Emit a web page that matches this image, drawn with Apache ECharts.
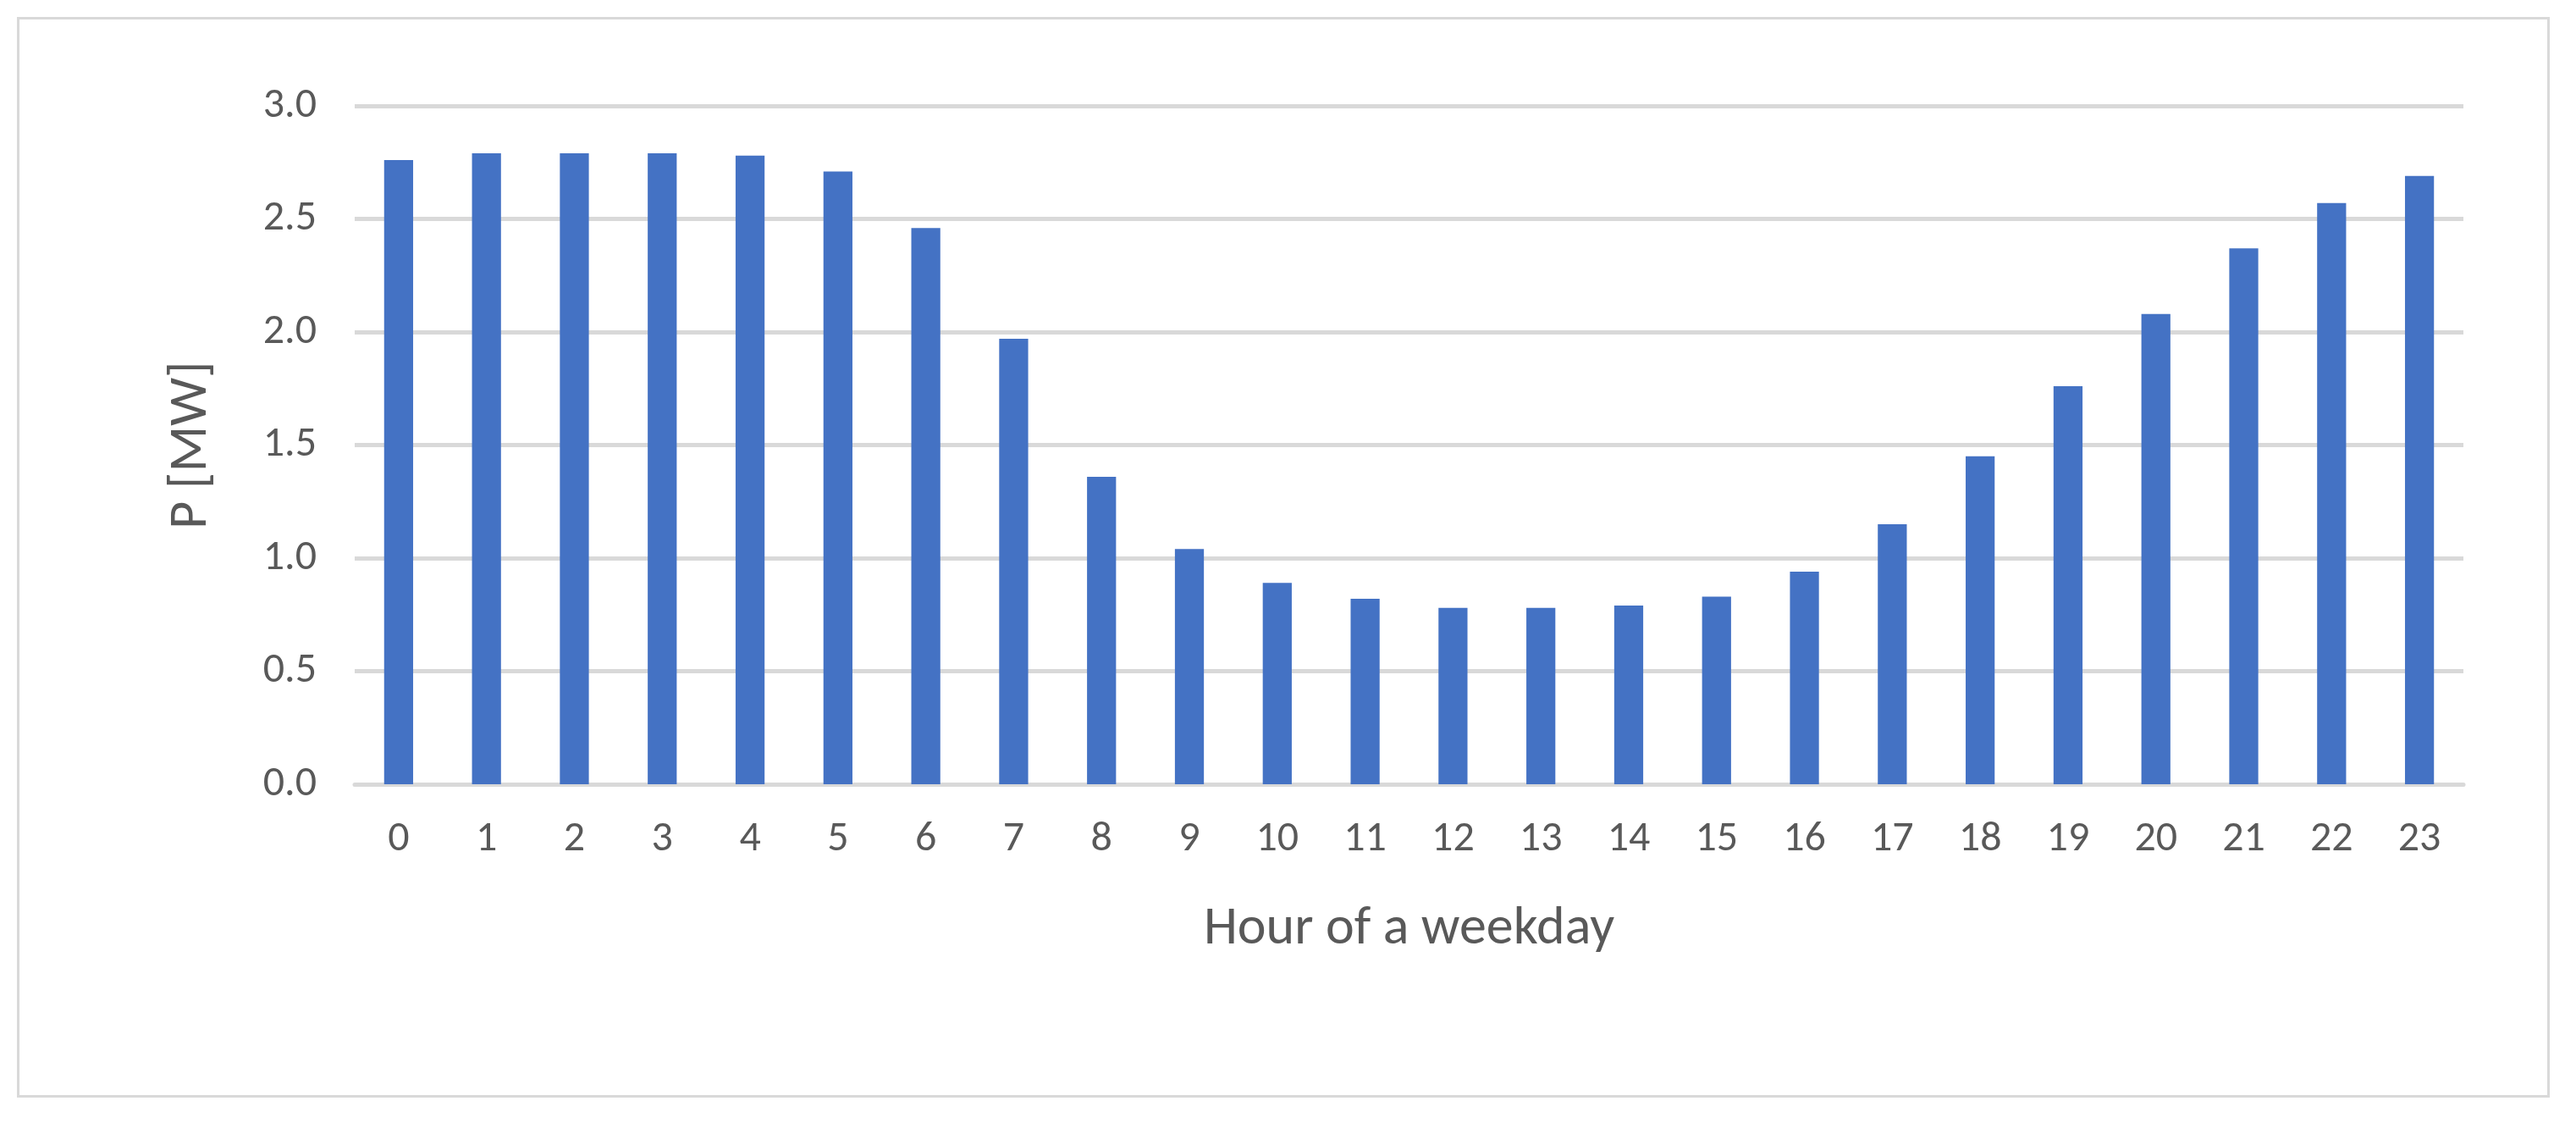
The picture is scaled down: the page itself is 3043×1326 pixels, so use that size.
<!DOCTYPE html>
<html><head><meta charset="utf-8">
<script src="https://cdn.jsdelivr.net/npm/echarts@6/dist/echarts.min.js"></script>
<style>html,body{margin:0;padding:0;background:#fff}#c{width:3043px;height:1326px}
#frame{position:absolute;left:20px;top:20px;width:2992px;height:1276px;border:3px solid #d9d9d9;box-sizing:border-box;pointer-events:none}</style>
</head><body><div id="c"></div><div id="frame"></div>
<script>
const hours = ['0','1','2','3','4','5','6','7','8','9','10','11','12','13','14','15','16','17','18','19','20','21','22','23'];
const power = [2.76,2.79,2.79,2.79,2.78,2.71,2.46,1.97,1.36,1.04,0.89,0.82,0.78,0.78,0.79,0.83,0.94,1.15,1.45,1.76,2.08,2.37,2.57,2.69];
const chart = echarts.init(document.getElementById('c'));
const txt = '#595959', font = 'Calibri, Carlito, "Open Sans", sans-serif';
chart.setOption({
  animation:false,
  grid:{left:419,right:133,top:125,bottom:400},
  xAxis:{type:'category',data:hours,name:'Hour of a weekday',nameLocation:'middle',nameGap:140,
    nameTextStyle:{color:txt,fontSize:64,fontFamily:font},
    axisLine:{lineStyle:{color:'#d9d9d9',width:5}},axisTick:{show:false},
    axisLabel:{color:txt,fontSize:50,fontFamily:font,margin:40}},
  yAxis:{type:'value',min:0,max:3,interval:0.5,name:'P [MW]',nameLocation:'middle',nameGap:160,
    nameTextStyle:{color:txt,fontSize:64,fontFamily:font},
    axisLine:{show:false},axisTick:{show:false},
    axisLabel:{color:txt,fontSize:50,fontFamily:font,margin:45,formatter:v=>v.toFixed(1)},
    splitLine:{lineStyle:{color:'#d9d9d9',width:5}}},
  series:[{type:'bar',data:power,barWidth:'33%',itemStyle:{color:'#4472c4'}}]
});
</script></body></html>
